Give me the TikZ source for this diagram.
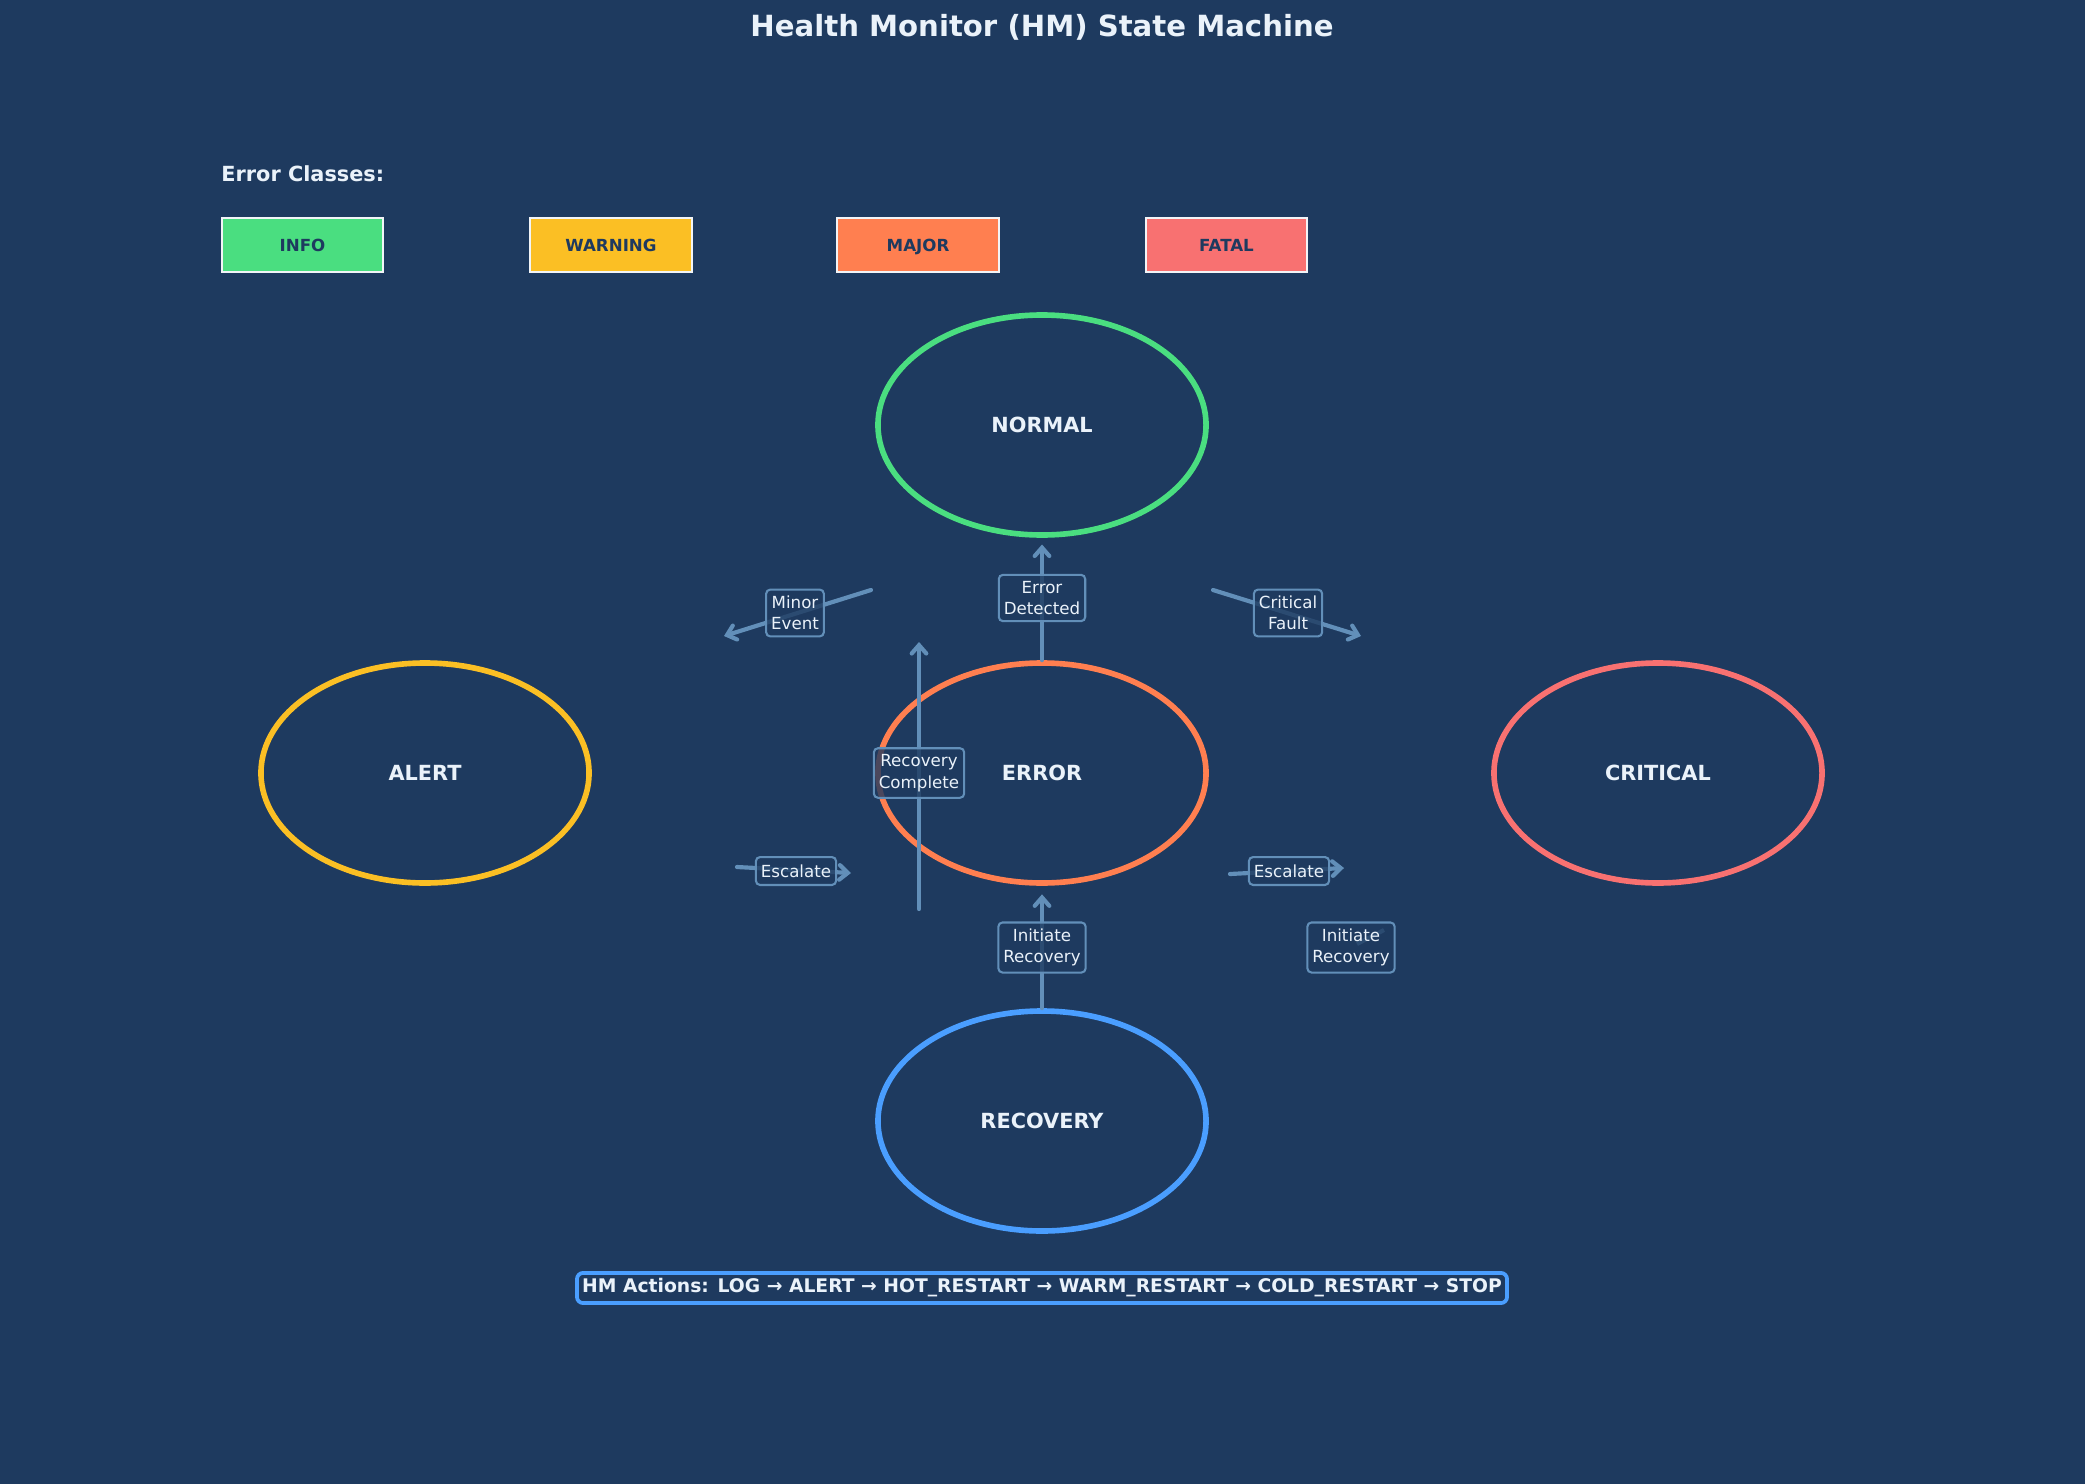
\documentclass[tikz,border=0pt]{standalone}
\usepackage{fontspec}
\setmainfont{DejaVu Sans}
\usetikzlibrary{arrows.meta,shapes.geometric}
\definecolor{bg}{HTML}{1E3A5F}
\definecolor{txt}{HTML}{EAF2FA}
\definecolor{cinfo}{HTML}{4ADE80}
\definecolor{cwarn}{HTML}{FBBF24}
\definecolor{cmajor}{HTML}{FF7F50}
\definecolor{cfatal}{HTML}{F87171}
\definecolor{crec}{HTML}{4A9EFF}
\definecolor{arr}{RGB}{98,143,185}
\definecolor{legline}{HTML}{F2F4F7}
\begin{document}
\begin{tikzpicture}[x=0.48pt,y=-0.48pt,
  state/.style={ellipse, draw, line width=2.7pt, minimum width=157.5pt, minimum height=105.6pt,
    inner sep=0pt, font=\fontsize{10}{12}\selectfont\bfseries, text=txt},
  legendbox/.style={draw=legline, line width=0.8pt, minimum width=77.5pt, minimum height=26.2pt,
    inner sep=0pt, text height=5.9pt, text depth=0pt, font=\fontsize{8}{9.6}\selectfont\bfseries, text=bg},
  flow/.style={draw=arr, line width=2pt, line cap=round, -{Straight Barb[length=4pt,width=7pt,line cap=round]}},
  lab/.style={draw=arr, line width=1pt, rounded corners=2pt, fill=bg, fill opacity=0.8, text opacity=1,
    text=txt, align=center, font=\fontsize{8}{10.3}\selectfont, inner xsep=2.4pt, inner ysep=3pt,
    minimum height=13.4pt},
  faint/.style={draw=arr, line width=2pt}
]
\fill[bg] (0,0) rectangle (2085,1484);
\useasboundingbox (0,0) rectangle (2085,1484);

% title
\node[anchor=base, text=txt, font=\fontsize{14}{17}\selectfont\bfseries] (title) at (1042,37) {Health Monitor (HM) State Machine};

% legend
\node[anchor=base west, inner sep=0pt, text=txt, font=\fontsize{10}{12}\selectfont\bfseries] (legtitle) at (221,182) {Error Classes:};
\node[legendbox, fill=cinfo] (info) at (302.5,245) {INFO};
\node[legendbox, fill=cwarn] (warning) at (611,245) {WARNING};
\node[legendbox, fill=cmajor] (major) at (918,245) {MAJOR};
\node[legendbox, fill=cfatal] (fatal) at (1226.5,245) {FATAL};

% states
\node[state, draw=cinfo] (normal) at (1042,425) {NORMAL};
\node[state, draw=cwarn] (alert) at (425,773) {ALERT};
\node[state, draw=cmajor] (error) at (1042,773) {ERROR};
\node[state, draw=cfatal] (critical) at (1658,773) {CRITICAL};
\node[state, draw=crec] (recovery) at (1042,1121) {RECOVERY};

% free arrow ends
\coordinate (meS) at (871,590);
\coordinate (meE) at (724,636);
\coordinate (cfS) at (1213,590);
\coordinate (cfE) at (1361,636);
\coordinate (rcS) at (919,909);
\coordinate (rcE) at (919,642);
\coordinate (elS) at (737,867);
\coordinate (elE) at (851,873);
\coordinate (erS) at (1230,874);
\coordinate (erE) at (1344,868);
\coordinate (irS) at (1357,944);
\coordinate (irE) at (1384,930);

% connectors
\draw[flow, shorten >=3.2pt] (error.north) -- (normal.south);
\draw[flow] (meS) -- (meE);
\draw[flow] (cfS) -- (cfE);
\draw[flow] (rcS) -- (rcE);
\draw[flow] (elS) -- (elE);
\draw[flow] (erS) -- (erE);
\draw[flow, shorten >=4.1pt] (recovery.north) -- (error.south);
\draw[faint] (irS) -- (irE);

% labels
\node[lab] (lbED) at (1042,598) {Error\\Detected};
\node[lab] (lbME) at (795,613) {Minor\\Event};
\node[lab] (lbCF) at (1288,613) {Critical\\Fault};
\node[lab] (lbRC) at (919,773) {Recovery\\Complete};
\node[lab] (lbEL) at (796,871) {Escalate};
\node[lab] (lbER) at (1289,871) {Escalate};
\node[lab] (lbIR) at (1042,947.5) {Initiate\\Recovery};
\node[lab] (lbIR2) at (1351,947.5) {Initiate\\Recovery};

% bottom summary
\node[draw=crec, line width=1.8pt, rounded corners=3pt, fill=bg, text=txt,
  font=\fontsize{9}{11}\selectfont\bfseries, inner xsep=2.5pt, inner ysep=0pt, minimum height=14.5pt]
  (actions) at (1042,1288) {HM Actions: LOG → ALERT → HOT\_RESTART → WARM\_RESTART → COLD\_RESTART → STOP};
\end{tikzpicture}
\end{document}
